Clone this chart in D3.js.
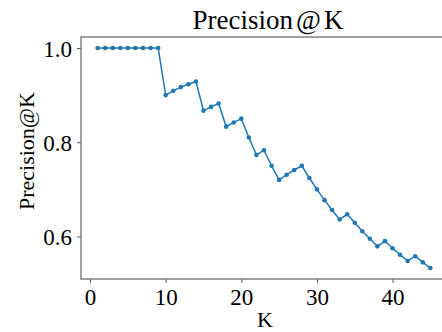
<!DOCTYPE html>
<html>
<head>
<meta charset="utf-8">
<script src="https://cdn.jsdelivr.net/npm/d3@7"></script>
<style>
  body { margin: 0; background: #fff; }
  text { font-family: "Liberation Serif", "DejaVu Serif", serif; fill: #000; }
</style>
</head>
<body>
<script>
// precision at each cut-off K
var kValues = d3.range(1, 46);
var precision = [
    1.0, 1.0, 1.0, 1.0, 1.0, 1.0, 1.0, 1.0, 1.0,
    0.900, 0.909, 0.917, 0.923, 0.929, 0.867, 0.875, 0.882, 0.833, 0.842, 0.850,
    0.810, 0.773, 0.783, 0.750, 0.720, 0.731, 0.741, 0.750, 0.724, 0.700,
    0.677, 0.656, 0.636, 0.647, 0.629, 0.611, 0.595, 0.579, 0.590, 0.575,
    0.561, 0.548, 0.558, 0.545, 0.533
];
var xTicks = [0, 10, 20, 30, 40];
var yTicks = [0.6, 0.8, 1.0];

window.onload = function() {
    var w = 442, h = 332;
    var left = 81, right = 447, top = 37, bottom = 279;

    var svg = d3.select("body").append("svg")
        .attr("width", w)
        .attr("height", h);

    //matplotlib style 5% margins
    var xMin = d3.min(kValues), xMax = d3.max(kValues);
    var yMin = d3.min(precision), yMax = d3.max(precision);
    var xPad = (xMax - xMin) * 0.05, yPad = (yMax - yMin) * 0.05;

    var x = d3.scaleLinear().domain([xMin - xPad, xMax + xPad]).range([left, right]);
    var y = d3.scaleLinear().domain([yMin - yPad, yMax + yPad]).range([bottom, top]);

    var data = kValues.map(function(k, i) { return {k: k, p: precision[i]}; });

    //axes
    var xAxis = svg.append("g")
        .attr("transform", "translate(0," + bottom + ")")
        .call(d3.axisBottom(x).tickValues(xTicks).tickFormat(d3.format("d")).tickSize(4).tickPadding(5));
    var yAxis = svg.append("g")
        .attr("transform", "translate(" + left + ",0)")
        .call(d3.axisLeft(y).tickValues(yTicks).tickFormat(d3.format(".1f")).tickSize(4).tickPadding(5));

    [xAxis, yAxis].forEach(function(a) {
        a.select(".domain").remove();
        a.selectAll(".tick line").attr("stroke", "#555").attr("stroke-width", 1);
        a.selectAll(".tick text")
            .style("font-family", "'Liberation Serif', serif")
            .style("font-size", "23px")
            .attr("fill", "#000");
    });
    xAxis.selectAll(".tick text").attr("dy", "0.72em");
    yAxis.selectAll(".tick text").attr("dy", "0.35em");

    //spines (left, bottom, top; right one falls outside the window)
    svg.append("path")
        .attr("d", "M" + right + "," + top + "H" + left + "V" + bottom + "H" + right)
        .attr("fill", "none")
        .attr("stroke", "#808080")
        .attr("stroke-width", 1.5);

    //line
    svg.append("path")
        .datum(data)
        .attr("fill", "none")
        .attr("stroke", "#1f77b4")
        .attr("stroke-width", 1.5)
        .attr("d", d3.line().x(function(d) { return x(d.k); }).y(function(d) { return y(d.p); }));

    svg.selectAll(".dot")
        .data(data)
        .enter()
        .append("circle")
        .attr("class", "dot")
        .attr("cx", function(d) { return x(d.k); })
        .attr("cy", function(d) { return y(d.p); })
        .attr("r", 2.3)
        .attr("fill", "#1f77b4");

    //title and labels
    var title = svg.append("text")
        .attr("x", 268)
        .attr("y", 29)
        .attr("text-anchor", "middle")
        .style("font-size", "27px");
    title.append("tspan").text("Precision");
    title.append("tspan").attr("dx", 3).text("@");
    title.append("tspan").attr("dx", 3).text("K");

    svg.append("text")
        .attr("x", 265)
        .attr("y", 327)
        .attr("text-anchor", "middle")
        .style("font-size", "22px")
        .text("K");

    svg.append("text")
        .attr("transform", "translate(34,151) rotate(-90)")
        .attr("text-anchor", "middle")
        .style("font-size", "22px")
        .text("Precision@K");
};
</script>
</body>
</html>
